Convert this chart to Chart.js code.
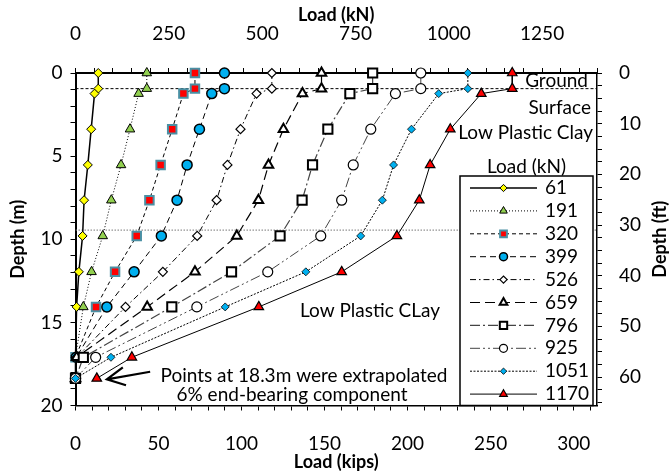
<!DOCTYPE html>
<html>
<head>
<meta charset="utf-8">
<script src="https://cdn.jsdelivr.net/npm/chart.js@4.4.1/dist/chart.umd.min.js"></script>
<style>
  html, body { margin: 0; padding: 0; background: #fff; }
  #wrap { width: 670px; height: 474px; }
</style>
</head>
<body>
<div id="wrap"><canvas id="pileChart" width="670" height="474"></canvas></div>
<script>
// depth of each reading below pile head (m)
const depthM = [0, 0.94, 1.24, 3.38, 5.53, 7.65, 9.8, 11.96, 14.07, 17.1, 18.37];

// load at the head for each test step (kN), used as legend labels
const loadLabels = ['61', '191', '320', '399', '526', '659', '796', '925', '1051', '1170'];

// load carried at each depth (kN)
const load61   = [61, 61, 51, 42, 33, 23, 19, 9, 3, 0, 0];
const load191  = [191, 191, 169, 146, 122, 96, 73, 43, 21, 0, 0];
const load320  = [320, 320, 289, 259, 228, 198, 164, 106, 55, 0, 0];
const load399  = [399, 399, 365, 332, 299, 272, 230, 157, 84, 2, 0];
const load526  = [526, 526, 485, 442, 407, 378, 326, 234, 134, 3, 0];
const load659  = [659, 659, 608, 557, 517, 490, 432, 320, 192, 3, 0];
const load796  = [796, 796, 735, 676, 635, 607, 548, 418, 258, 21, 0];
const load925  = [925, 925, 857, 791, 744, 713, 657, 515, 325, 54, 0];
const load1051 = [1051, 1051, 973, 900, 852, 822, 764, 617, 401, 95, 0];
const load1170 = [1170, 1170, 1087, 1004, 950, 921, 861, 713, 491, 151, 57];

// reference depths (m): ground surface and clay layer boundary
const groundDepth = 0.94;
const layerDepth = 9.45;

const KN_MAX = 1397;
const KIPS_PER_KN = 0.224809;
const FT_PER_M = 3.28084;
const DEPTH_MAX = 20;

const allLoads = [load61, load191, load320, load399, load526, load659, load796, load925, load1051, load1170];

const FONT = 'Lato, "Open Sans", sans-serif';
Chart.defaults.font.family = FONT;
Chart.defaults.font.size = 19;
Chart.defaults.color = '#000';

const seriesStyle = [
  { pointStyle: 'rectRot',  radius: 4.5, bg: '#ffff00', border: '#000',    bw: 1,   line: '#000', lw: 1.5, dash: [] },
  { pointStyle: 'triangle', radius: 5.5, bg: '#92d050', border: '#000',    bw: 1,   line: '#000', lw: 1,   dash: [1, 2] },
  { pointStyle: 'rect',     radius: 6,   bg: '#ff0000', border: '#4a90a4', bw: 2,   line: '#000', lw: 1,   dash: [4, 3] },
  { pointStyle: 'circle',   radius: 5,   bg: '#00b0f0', border: '#000',    bw: 1.5, line: '#000', lw: 1,   dash: [6, 4] },
  { pointStyle: 'rectRot',  radius: 4.5, bg: '#ffffff', border: '#000',    bw: 1.2, line: '#000', lw: 1,   dash: [6, 3, 1.5, 3] },
  { pointStyle: 'triangle', radius: 5.5, bg: '#ffffff', border: '#000',    bw: 2,   line: '#000', lw: 1.2, dash: [10, 5] },
  { pointStyle: 'rect',     radius: 6.5, bg: '#ffffff', border: '#000',    bw: 2,   line: '#444', lw: 1.2, dash: [10, 3, 2, 3] },
  { pointStyle: 'circle',   radius: 5,   bg: '#ffffff', border: '#000',    bw: 1.2, line: '#444', lw: 1,   dash: [10, 3, 2, 3, 2, 3] },
  { pointStyle: 'rectRot',  radius: 4,   bg: '#00b0f0', border: '#000',    bw: 0.8, line: '#000', lw: 1,   dash: [2, 1.5] },
  { pointStyle: 'triangle', radius: 5.5, bg: '#ff0000', border: '#000',    bw: 1.2, line: '#000', lw: 1,   dash: [] }
];

// later load steps are drawn on top of earlier ones
const datasets = allLoads.map((loads, i) => {
  const s = seriesStyle[i];
  return {
    label: loadLabels[i],
    data: loads.map((v, j) => ({ x: v, y: depthM[j] })),
    showLine: true,
    borderColor: s.line,
    borderWidth: s.lw,
    borderDash: s.dash,
    pointStyle: s.pointStyle,
    pointRadius: s.radius,
    pointBackgroundColor: s.bg,
    pointBorderColor: s.border,
    pointBorderWidth: s.bw,
    tension: 0,
    clip: false,
    order: allLoads.length - i
  };
});

// horizontal reference lines across the whole plot
datasets.push({
  label: 'ground',
  data: [{ x: 0, y: groundDepth }, { x: KN_MAX, y: groundDepth }],
  showLine: true, borderColor: '#000', borderWidth: 1, borderDash: [3, 2],
  pointRadius: 0, order: 30
});
datasets.push({
  label: 'layer',
  data: [{ x: 0, y: layerDepth }, { x: KN_MAX, y: layerDepth }],
  showLine: true, borderColor: '#777', borderWidth: 1, borderDash: [1.5, 1.5],
  pointRadius: 0, order: 30
});

// notes, legend and arrow drawn on top of the plot
const overlay = {
  id: 'overlay',
  afterDatasetsDraw(chart) {
    const { ctx, chartArea: a, scales } = chart;
    const px = v => scales.x.getPixelForValue(v);
    const py = v => scales.y.getPixelForValue(v);
    ctx.save();
    ctx.fillStyle = '#000';
    ctx.font = '19px ' + FONT;
    ctx.textBaseline = 'middle';

    ctx.textAlign = 'right';
    ctx.fillText('Ground', a.right - 9, py(0.5));
    ctx.fillText('Surface', a.right - 6, py(2.12));
    ctx.fillText('Low Plastic Clay', a.right - 4, py(3.62));

    ctx.textAlign = 'center';
    ctx.fillText('Low Plastic CLay', px(789), py(14.3));
    ctx.fillText('Points at 18.3m were extrapolated', px(612), py(18.23));
    ctx.fillText('6% end-bearing component', px(580), py(19.37));

    // arrow pointing at the extrapolated points
    const tipX = px(84), tipY = py(18.43);
    const tailX = px(200), tailY = py(17.97);
    const ang = Math.atan2(tailY - tipY, tailX - tipX);
    ctx.strokeStyle = '#000';
    ctx.lineWidth = 2.2;
    ctx.setLineDash([]);
    ctx.beginPath();
    ctx.moveTo(tailX, tailY);
    ctx.lineTo(tipX, tipY);
    ctx.moveTo(tipX + 20 * Math.cos(ang - 0.47), tipY + 20 * Math.sin(ang - 0.47));
    ctx.lineTo(tipX, tipY);
    ctx.lineTo(tipX + 20 * Math.cos(ang + 0.47), tipY + 20 * Math.sin(ang + 0.47));
    ctx.stroke();

    // legend box
    const boxL = a.right - 137, boxR = a.right - 4;
    const boxT = a.top + 103, boxB = a.bottom;
    ctx.fillText('Load (kN)', (boxL + boxR) / 2, boxT - 9);
    ctx.fillStyle = '#fff';
    ctx.fillRect(boxL, boxT, boxR - boxL, boxB - boxT);
    ctx.strokeStyle = '#000';
    ctx.lineWidth = 1.5;
    ctx.strokeRect(boxL, boxT, boxR - boxL, boxB - boxT);

    ctx.textAlign = 'left';
    loadLabels.forEach((label, i) => {
      const s = seriesStyle[i];
      const ry = boxT + 12 + i * 22.9;
      ctx.strokeStyle = s.line;
      ctx.lineWidth = s.lw;
      ctx.setLineDash(s.dash);
      ctx.beginPath();
      ctx.moveTo(boxL + 10, ry);
      ctx.lineTo(boxL + 77, ry);
      ctx.stroke();
      ctx.setLineDash([]);
      ctx.fillStyle = s.bg;
      ctx.strokeStyle = s.border;
      ctx.lineWidth = s.bw;
      Chart.helpers.drawPoint(ctx, { pointStyle: s.pointStyle, radius: s.radius * 0.8, rotation: 0, borderWidth: s.bw }, boxL + 43.5, ry);
      ctx.fillStyle = '#000';
      ctx.fillText(label, boxL + 85, ry);
    });

    // right axis title, reading bottom to top
    ctx.font = 'bold 18px ' + FONT;
    ctx.textAlign = 'center';
    ctx.translate(chart.width - 10, (a.top + a.bottom) / 2);
    ctx.rotate(-Math.PI / 2);
    ctx.fillText('Depth (ft)', 0, 0);
    ctx.restore();
  }
};

const tickGrid = { drawOnChartArea: false, drawTicks: true, tickLength: 5, color: '#000', lineWidth: 1 };

const ctx = document.getElementById('pileChart').getContext('2d');
new Chart(ctx, {
  type: 'scatter',
  data: { datasets: datasets },
  plugins: [overlay],
  options: {
    responsive: false,
    devicePixelRatio: 1,
    animation: false,
    layout: { padding: 0 },
    plugins: { legend: { display: false }, tooltip: { enabled: false } },
    scales: {
      x: {
        type: 'linear', position: 'top', bounds: 'data',
        min: 0, max: KN_MAX,
        ticks: { stepSize: 50, includeBounds: false, autoSkip: false, maxRotation: 0, padding: 23,
                 callback: v => (v % 250 === 0 ? String(v) : '') },
        grid: tickGrid,
        border: { display: true, color: '#000', width: 2 },
        title: { display: true, text: 'Load (kN)', font: { weight: 'bold', size: 18 }, padding: { top: 4, bottom: 0 } },
        afterFit: s => { s.height = 73; }
      },
      x2: {
        type: 'linear', position: 'bottom', bounds: 'data',
        min: 0, max: KN_MAX * KIPS_PER_KN,
        ticks: { stepSize: 10, includeBounds: false, autoSkip: false, maxRotation: 0, padding: 22,
                 callback: v => (v % 50 === 0 ? String(v) : '') },
        grid: tickGrid,
        border: { display: true, color: '#000', width: 1.5 },
        title: { display: true, text: 'Load (kips)', font: { weight: 'bold', size: 18 }, padding: { top: 0, bottom: 1 } },
        afterFit: s => { s.height = 68.5; }
      },
      y: {
        type: 'linear', position: 'left', reverse: true, bounds: 'data',
        min: 0, max: DEPTH_MAX,
        ticks: { stepSize: 1, includeBounds: false, autoSkip: false, padding: 8,
                 callback: v => (v % 5 === 0 ? String(v) : '') },
        grid: tickGrid,
        border: { display: true, color: '#000', width: 2 },
        title: { display: true, text: 'Depth (m)', font: { weight: 'bold', size: 18 }, padding: { top: 7, bottom: 0 } },
        afterFit: s => { s.width = 75.5; }
      },
      y2: {
        type: 'linear', position: 'right', reverse: true, bounds: 'data',
        min: 0, max: DEPTH_MAX * FT_PER_M,
        ticks: { stepSize: 2.5, includeBounds: false, autoSkip: false, padding: 17,
                 callback: v => (v % 10 === 0 ? String(v) : '') },
        grid: tickGrid,
        border: { display: true, color: '#000', width: 1.5 },
        afterFit: s => { s.width = 73; }
      }
    }
  }
});
</script>
</body>
</html>
